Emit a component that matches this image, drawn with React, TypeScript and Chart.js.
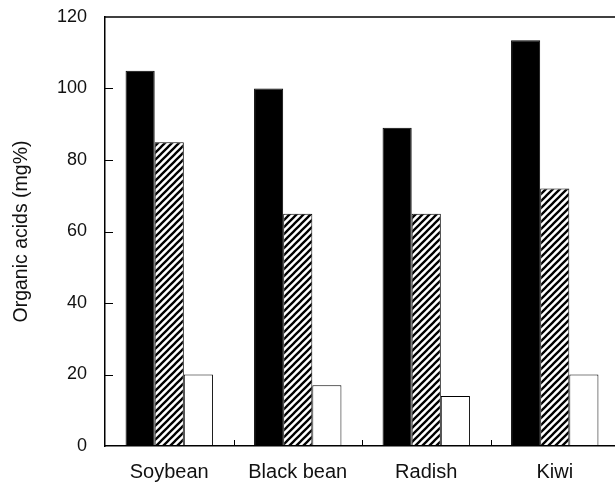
import React, { useEffect, useRef } from "react";
import { Chart, registerables } from "chart.js";

Chart.register(...registerables);

const categories = ["Soybean", "Black bean", "Radish", "Kiwi"];
const seriesBlack = [105, 100, 89, 113.5];
const seriesHatched = [85, 65, 65, 72];
const seriesWhite = [20, 17, 14, 20];
const yTickValues = [0, 20, 40, 60, 80, 100, 120];
const yTitle = "Organic acids (mg%)";

const FONT = "'Liberation Sans', Arial, Helvetica, sans-serif";

function makeHatch(): CanvasPattern | string {
  const p = 7;
  const c = document.createElement("canvas");
  c.width = p;
  c.height = p;
  const g = c.getContext("2d");
  if (!g) return "#888";
  g.fillStyle = "#fff";
  g.fillRect(0, 0, p, p);
  g.strokeStyle = "#000";
  g.lineWidth = 2.3;
  g.beginPath();
  g.moveTo(-1, p + 1);
  g.lineTo(p + 1, -1);
  g.moveTo(-1, 1);
  g.lineTo(1, -1);
  g.moveTo(p - 1, p + 1);
  g.lineTo(p + 1, p - 1);
  g.stroke();
  return g.createPattern(c, "repeat") || "#888";
}

const framePlugin = {
  id: "frameTicks",
  afterDraw(chart: any) {
    const { ctx, chartArea: a, scales } = chart;
    ctx.save();
    ctx.strokeStyle = "#000";
    ctx.lineWidth = 1.5;
    ctx.beginPath();
    ctx.moveTo(a.left, a.top);
    ctx.lineTo(a.right, a.top);
    ctx.stroke();
    ctx.lineWidth = 1;
    ctx.beginPath();
    scales.y.ticks.forEach((t: any) => {
      if (t.value === 0 || t.value === 120) return;
      const py = Math.round(scales.y.getPixelForValue(t.value)) + 0.5;
      ctx.moveTo(a.left, py);
      ctx.lineTo(a.left + 8, py);
    });
    for (let i = 1; i < categories.length; i++) {
      const px =
        Math.round((scales.x.getPixelForValue(i - 1) + scales.x.getPixelForValue(i)) / 2) + 0.5;
      ctx.moveTo(px, a.bottom);
      ctx.lineTo(px, a.bottom - 6);
    }
    ctx.stroke();
    ctx.restore();
  },
};

export default function App() {
  const ref = useRef<HTMLCanvasElement | null>(null);

  useEffect(() => {
    if (!ref.current) return;
    const hatch = makeHatch();
    const common = {
      barPercentage: 1,
      categoryPercentage: 0.68,
      borderColor: "#000",
      borderSkipped: false as const,
    };
    const chart = new Chart(ref.current, {
      type: "bar",
      data: {
        labels: categories,
        datasets: [
          { ...common, label: "A", data: seriesBlack, backgroundColor: "#000", borderWidth: 1 },
          { ...common, label: "B", data: seriesHatched, backgroundColor: hatch as any, borderWidth: 1 },
          { ...common, label: "C", data: seriesWhite, backgroundColor: "#fff", borderWidth: 1 },
        ],
      },
      options: {
        animation: false,
        responsive: false,
        devicePixelRatio: 1,
        layout: { padding: { top: 17, right: 0, left: 0, bottom: 0 } },
        plugins: { legend: { display: false }, tooltip: { enabled: false } },
        scales: {
          x: {
            offset: true,
            grid: { display: false, drawTicks: false },
            border: { display: true, color: "#000", width: 1.5 },
            ticks: { font: { family: FONT, size: 20 }, color: "#111", padding: 14 },
            afterFit: (s: any) => {
              s.height = 41;
              s.paddingLeft = 0;
              s.paddingRight = 0;
            },
          },
          y: {
            min: 0,
            max: 120,
            afterBuildTicks: (s: any) => {
              s.ticks = yTickValues.map((v) => ({ value: v }));
            },
            grid: { display: false, drawTicks: false },
            border: { display: true, color: "#000", width: 1.5 },
            ticks: { font: { family: FONT, size: 18 }, color: "#111", padding: 18 },
            title: {
              display: true,
              text: yTitle,
              font: { family: FONT, size: 19.5 },
              color: "#111",
              padding: { top: 10, bottom: 0 },
            },
            afterFit: (s: any) => {
              s.width = 105;
              s.paddingTop = 0;
              s.paddingBottom = 0;
            },
          },
        },
      },
      plugins: [framePlugin],
    });
    return () => chart.destroy();
  }, []);

  return (
    <div
      style={{
        position: "fixed",
        left: 0,
        top: 0,
        width: 615,
        height: 487,
        overflow: "hidden",
        background: "#fff",
      }}
    >
      <canvas ref={ref} width={619} height={487} style={{ display: "block" }} />
    </div>
  );
}
